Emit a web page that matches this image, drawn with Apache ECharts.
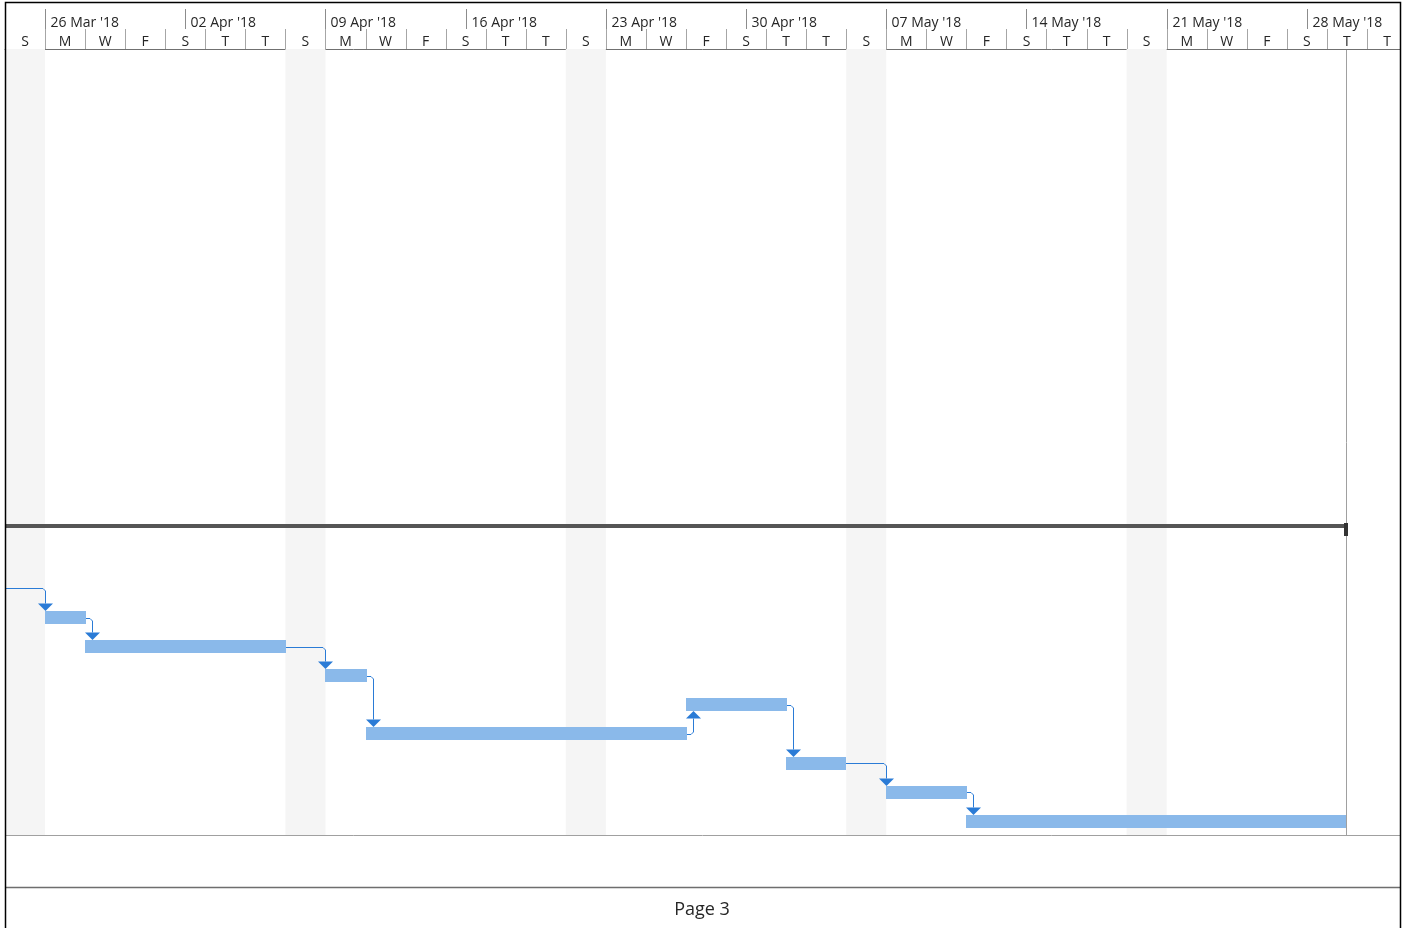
<!DOCTYPE html>
<html><head><meta charset="utf-8">
<script src="https://cdn.jsdelivr.net/npm/echarts@6/dist/echarts.min.js"></script>
<style>html,body{margin:0;padding:0;background:#fff}#c{width:1403px;height:928px}</style>
</head><body><div id="c"></div>
<script>
// ---- timescale (days counted from Sat 24 Mar 2018 = 0) ----
const weekLabels = ["26 Mar '18","02 Apr '18","09 Apr '18","16 Apr '18","23 Apr '18","30 Apr '18","07 May '18","14 May '18","21 May '18","28 May '18"];
const weekStarts = [2, 9, 16, 23, 30, 37, 44, 51, 58, 65];
const dayCellLabels = ['S','M','W','F','S','T','T','S','M','W','F','S','T','T','S','M','W','F','S','T','T','S','M','W','F','S','T','T','S','M','W','F','S','T','T'];
const dayCellStarts = [0,2,4,6,8,10,12,14,16,18,20,22,24,26,28,30,32,34,36,38,40,42,44,46,48,50,52,54,56,58,60,62,64,66,68];
const shadedStarts = [0, 14, 28, 42, 56];
const shadedEnds = [2, 16, 30, 44, 58];
// ---- tasks ----
const taskStarts = [2, 4, 16, 18, 34, 39, 44, 48];
const taskEnds   = [4.05, 14.05, 18.05, 34.05, 39.05, 42, 48.05, 66.95];
const taskRows   = [0, 1, 2, 4, 3, 5, 6, 7];
// ---- links (finish-to-start) ----
const linkFrom = [0, 1, 2, 3, 4, 5, 6];
const linkTo   = [1, 2, 3, 4, 5, 6, 7];
const incomingDay = 0, incomingRow = -1, incomingTo = 0;
// ---- summary line & project finish ----
const summaryStart = 0, summaryEnd = 66.95, summaryRow = -3.14;
const finishDay = 66.97;
const pageLabel = 'Page 3';

const FONT = "'Segoe UI','Open Sans','Noto Sans',sans-serif";
const BAR_H = 13;
const BAR_COLOR = '#8ab9ea';
const LINK_COLOR = '#2a7bd6';

const chart = echarts.init(document.getElementById('c'), null, {renderer: 'canvas'});

const barData = taskStarts.map((s, i) => [s, taskRows[i], taskEnds[i]]);
const linkData = [[incomingDay, incomingRow, taskStarts[incomingTo], taskRows[incomingTo]]]
  .concat(linkFrom.map((f, i) => [taskEnds[f], taskRows[f], taskStarts[linkTo[i]], taskRows[linkTo[i]]]));
const crisp = v => Math.round(v) + 0.5;

const option = {
  animation: false,
  grid: {left: 5, right: 3, top: 49, bottom: 93},
  xAxis: {type: 'value', min: 0, max: 69.65, position: 'top',
    axisLine: {show: true, onZero: false, lineStyle: {color: '#707070', width: 1}},
    axisTick: {show: false}, axisLabel: {show: false}, splitLine: {show: false}},
  yAxis: {type: 'value', min: -19.53, max: 7.47, inverse: true, show: false},
  series: [
    { // non-working shading
      type: 'custom', z: 1, clip: true,
      data: shadedStarts.map((s, i) => [s, 0, shadedEnds[i]]),
      renderItem: (params, api) => {
        const cs = params.coordSys;
        const x1 = api.coord([api.value(0), 0])[0];
        const x2 = api.coord([api.value(2), 0])[0];
        return {type: 'rect', shape: {x: x1, y: cs.y, width: x2 - x1, height: cs.height}, style: {fill: '#f5f5f5'}};
      }
    },
    { // header top tier (weeks)
      type: 'custom', z: 5, clip: false,
      data: weekStarts.map((d, i) => [d, 0, i]),
      renderItem: (params, api) => {
        const cs = params.coordSys;
        const x = crisp(api.coord([api.value(0), 0])[0]);
        return {type: 'group', children: [
          {type: 'line', shape: {x1: x, y1: cs.y - 40, x2: x, y2: cs.y - 20}, style: {stroke: '#8c8c8c', lineWidth: 1}},
          {type: 'text', x: x + 5, y: cs.y - 26, style: {text: weekLabels[api.value(2)], fill: '#262626', fontSize: 14, fontFamily: FONT, align: 'left', verticalAlign: 'middle'}}
        ]};
      }
    },
    { // header bottom tier (2-day cells)
      type: 'custom', z: 5, clip: false,
      data: dayCellStarts.map((d, i) => [d, 0, i]),
      renderItem: (params, api) => {
        const cs = params.coordSys;
        const d = api.value(0);
        const x1 = api.coord([d, 0])[0];
        const x2 = api.coord([d + 2, 0])[0];
        const children = [
          {type: 'text', x: (x1 + x2) / 2, y: cs.y - 7, style: {text: dayCellLabels[api.value(2)], fill: '#262626', fontSize: 14, fontFamily: FONT, align: 'center', verticalAlign: 'middle'}}
        ];
        if (d > 0) children.push({type: 'line', shape: {x1: crisp(x1), y1: cs.y - 20, x2: crisp(x1), y2: cs.y}, style: {stroke: '#a6a6a6', lineWidth: 1}});
        return {type: 'group', children};
      }
    },
    { // project finish line
      type: 'custom', z: 2, clip: false,
      data: [[finishDay, 0]],
      renderItem: (params, api) => {
        const cs = params.coordSys;
        const x = crisp(api.coord([api.value(0), 0])[0]);
        return {type: 'line', shape: {x1: x, y1: cs.y + 1, x2: x, y2: cs.y + cs.height}, style: {stroke: '#a0a0a0', lineWidth: 1}};
      }
    },
    { // summary line
      type: 'custom', z: 3, clip: false,
      data: [[summaryStart, summaryRow, summaryEnd]],
      renderItem: (params, api) => {
        const p1 = api.coord([api.value(0), api.value(1)]);
        const p2 = api.coord([api.value(2), api.value(1)]);
        const y = Math.round(p1[1]);
        return {type: 'group', children: [
          {type: 'rect', shape: {x: p1[0], y: y - 2, width: p2[0] - p1[0], height: 4}, style: {fill: '#555555'}},
          {type: 'rect', shape: {x: Math.round(p2[0]) - 2, y: y - 3, width: 4, height: 13}, style: {fill: '#333333'}}
        ]};
      }
    },
    { // task bars
      type: 'custom', z: 4, clip: false,
      data: barData,
      renderItem: (params, api) => {
        const p1 = api.coord([api.value(0), api.value(1)]);
        const p2 = api.coord([api.value(2), api.value(1)]);
        const y = Math.round(p1[1] - BAR_H / 2);
        return {type: 'rect', shape: {x: Math.round(p1[0]), y: y, width: Math.round(p2[0]) - Math.round(p1[0]), height: BAR_H}, style: {fill: BAR_COLOR}};
      }
    },
    { // links
      type: 'custom', z: 6, clip: false,
      data: linkData,
      renderItem: (params, api) => {
        const p = api.coord([api.value(0), api.value(1)]);
        const s = api.coord([api.value(2), api.value(3)]);
        const px = Math.round(p[0]), py = crisp(p[1]);
        const vx = crisp(Math.max(s[0], p[0] + 6));
        const dir = s[1] > p[1] ? 1 : -1;
        const tipY = Math.round(s[1] - dir * BAR_H / 2);
        const baseY = tipY - dir * 7.5;
        return {type: 'group', children: [
          {type: 'polyline', shape: {points: [[px, py], [vx - 2.5, py], [vx, py + dir * 2.5], [vx, baseY]]}, style: {stroke: LINK_COLOR, lineWidth: 1, fill: null}},
          {type: 'polygon', shape: {points: [[vx - 7.5, baseY], [vx + 7.5, baseY], [vx, tipY]]}, style: {fill: LINK_COLOR}}
        ]};
      }
    }
  ],
  graphic: [
    {type: 'line', z: 10, shape: {x1: 5, y1: 835.5, x2: 1400, y2: 835.5}, style: {stroke: '#a0a0a0', lineWidth: 1}},
    {type: 'line', z: 10, shape: {x1: 5, y1: 887.5, x2: 1400, y2: 887.5}, style: {stroke: '#6e6e6e', lineWidth: 1.5}},
    {type: 'text', z: 10, x: 702, y: 910, style: {text: pageLabel, fill: '#262626', fontSize: 18, fontFamily: FONT, align: 'center', verticalAlign: 'middle'}},
    {type: 'rect', z: 11, shape: {x: 5.5, y: 2.5, width: 1395, height: 940}, style: {fill: null, stroke: '#000', lineWidth: 1.5}}
  ]
};
chart.setOption(option);
</script>
</body></html>
